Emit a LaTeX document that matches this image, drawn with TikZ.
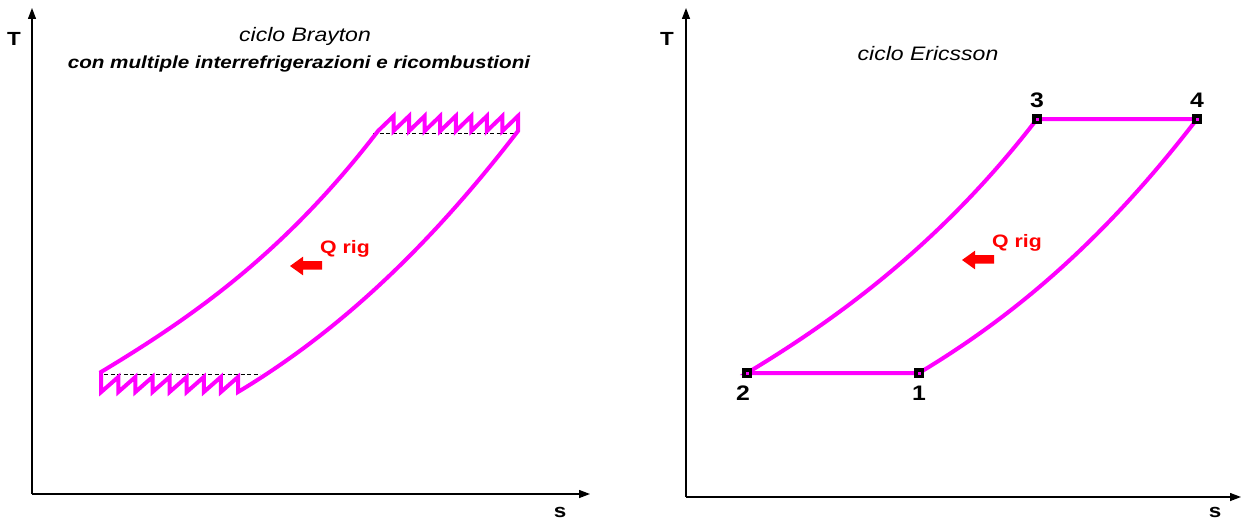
\documentclass[tikz,border=0pt]{standalone}
\usepackage{fontspec}
\setmainfont{Liberation Sans}
\newfontfamily\tf[FakeStretch=1.18]{Liberation Sans}
\usetikzlibrary{arrows.meta}
\definecolor{mag}{RGB}{255,0,255}
\definecolor{qred}{RGB}{255,0,0}
\begin{document}
\begin{tikzpicture}[x=1pt,y=-1pt,
  axis/.style={black,line width=1.3pt,-{Triangle[length=11pt,width=8pt]}},
  cyc/.style={mag,line width=4pt,line join=miter},
  iso/.style={black,line width=0.9pt,dash pattern=on 4pt off 2.5pt},
  title/.style={font=\tf\itshape\fontsize{19.5}{20}\selectfont,anchor=base},
  subtitle/.style={font=\tf\bfseries\itshape\fontsize{17.5}{18}\selectfont,anchor=base},
  axlab/.style={font=\tf\bfseries\fontsize{19}{20}\selectfont,anchor=base},
  numlab/.style={font=\tf\bfseries\fontsize{21}{21}\selectfont,anchor=base},
  qlab/.style={font=\tf\bfseries\fontsize{18}{18}\selectfont,text=qred,anchor=base},
  qarrow/.style={fill=qred,draw=none},
  marker/.style={rectangle,fill=black,inner sep=0pt,minimum size=10.5pt},
  dot/.style={rectangle,fill=mag,inner sep=0pt,minimum size=3pt}]
\useasboundingbox (0,0) rectangle (1242,519);

% ---------------- Left: Brayton ----------------
\coordinate (lo) at (32,494);
\coordinate (ly) at (32,8);
\coordinate (lx) at (590,494);
\draw[axis] (lo) -- (ly);
\draw[axis] (lo) -- (lx);
\node[axlab] (lT) at (14,46) {T};
\node[axlab] (ls) at (560,517) {s};
\node[title] (tb) at (305,42) {ciclo Brayton};
\node[subtitle] (tb2) at (299,69) {con multiple interrefrigerazioni e ricombustioni};

% dashed ideal isobars
\coordinate (bdl) at (104,374);
\coordinate (bdr) at (260,374);
\coordinate (tdl) at (373,133);
\coordinate (tdr) at (515,133);
\draw[iso] (bdl) -- (bdr);
\draw[iso] (tdl) -- (tdr);

% cycle
\coordinate (A) at (101,372);
\coordinate (B) at (378,131);
\coordinate (C) at (518,131);
\coordinate (D) at (238,392);
\draw[cyc] (A) .. controls +(100,-60) and +(-90,117) .. (B)
  -- ++(15.56,-15) -- ++(0,15)
  -- ++(15.56,-15) -- ++(0,15)
  -- ++(15.56,-15) -- ++(0,15)
  -- ++(15.56,-15) -- ++(0,15)
  -- ++(15.56,-15) -- ++(0,15)
  -- ++(15.56,-15) -- ++(0,15)
  -- ++(15.56,-15) -- ++(0,15)
  -- ++(15.56,-15) -- ++(0,15)
  -- ++(15.56,-15) -- (C)
  .. controls +(-90,117) and +(100,-60) .. (D)
  -- ++(0,-15) -- ++(-17.1,15)
  -- ++(0,-15) -- ++(-17.1,15)
  -- ++(0,-15) -- ++(-17.1,15)
  -- ++(0,-15) -- ++(-17.1,15)
  -- ++(0,-15) -- ++(-17.1,15)
  -- ++(0,-15) -- ++(-17.1,15)
  -- ++(0,-15) -- ++(-17.1,15)
  -- ++(0,-15) -- ++(-17.1,15)
  -- cycle;

% Q rig
\node[qlab] (ql) at (345,253) {Q rig};
\fill[qarrow] (290,266) -- (303,256.7) -- (303,261) -- (322,261) -- (322,269.5) -- (303,269.5) -- (303,275.3) -- cycle;

% ---------------- Right: Ericsson ----------------
\coordinate (ro) at (686,497);
\coordinate (ry) at (686,8);
\coordinate (rx) at (1241,497);
\draw[axis] (ro) -- (ry);
\draw[axis] (ro) -- (rx);
\node[axlab] (rT) at (667,46) {T};
\node[axlab] (rs) at (1215,517) {s};
\node[title] (te) at (928,60) {ciclo Ericsson};

\coordinate (c1) at (919,373);
\coordinate (c2) at (747,373);
\coordinate (c3) at (1037,119);
\coordinate (c4) at (1197,119);
\draw[cyc] (c2) .. controls +(100,-60) and +(-90,117) .. (c3)
  -- (c4) .. controls +(-90,117) and +(100,-60) .. (c1) -- cycle;
\foreach \p in {c1,c2,c3,c4}{
  \node[marker] (m\p) at (\p) {};
  \node[dot] (d\p) at (\p) {};
}
\node[numlab] (n1) at (919,400) {1};
\node[numlab] (n2) at (743,400) {2};
\node[numlab] (n3) at (1037,107) {3};
\node[numlab] (n4) at (1197,107) {4};

\node[qlab] (qr) at (1017,247) {Q rig};
\fill[qarrow] (962,260) -- (975,250.7) -- (975,255) -- (994,255) -- (994,263.5) -- (975,263.5) -- (975,269.3) -- cycle;
\end{tikzpicture}
\end{document}
